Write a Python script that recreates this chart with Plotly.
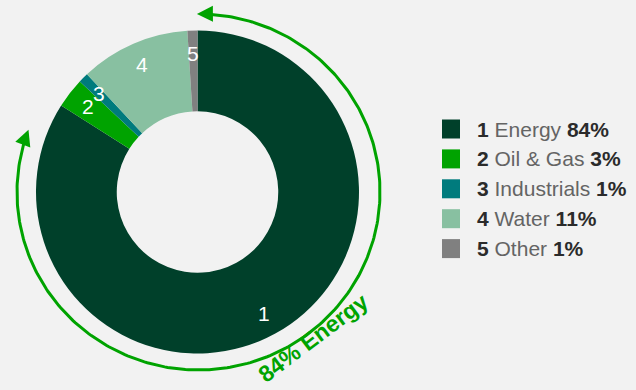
import numpy as np
import plotly.graph_objects as go

# ---- data ----
numbers = ["1", "2", "3", "4", "5"]
categories = ["Energy", "Oil & Gas", "Industrials", "Water", "Other"]
shares = [84, 3, 1, 11, 1]
colors = ["#00402a", "#00a300", "#007b7d", "#88c0a1", "#808080"]
arrow_label = "84% Energy"

W, H = 636, 390
BG = "#f2f2f2"
GREEN = "#00a300"
FONT = "Liberation Sans, Arial, sans-serif"

# donut geometry (pixels)
cx, cy, R = 197.5, 192.0, 161.5
hole = 0.5

fig = go.Figure()
fig.add_trace(go.Pie(
    values=shares, labels=categories,
    marker=dict(colors=colors, line=dict(width=0)),
    hole=hole, sort=False, direction="clockwise", rotation=0,
    textinfo="none", hoverinfo="label+percent", showlegend=False,
    domain=dict(x=[(cx - R) / W, (cx + R) / W],
                y=[1 - (cy + R) / H, 1 - (cy - R) / H]),
))

# slice number labels
total = float(sum(shares))
cum = np.cumsum(shares)
r_lab = 139
annotations = []
for num, s, c in zip(numbers, shares, cum):
    th = np.radians(360.0 * (c - s / 2.0) / total)
    annotations.append(dict(
        x=cx + r_lab * np.sin(th), y=cy - r_lab * np.cos(th), xref="x", yref="y",
        text=num, showarrow=False, xanchor="center", yanchor="middle",
        font=dict(family=FONT, size=21, color="white")))

# arrow arc around the Energy slice
acx, acy, Rx, Ry = 198.5, 192.0, 181.5, 178.0
t = np.radians(np.linspace(4.0, 286.0, 300))
fig.add_trace(go.Scatter(x=acx + Rx * np.sin(t), y=acy - Ry * np.cos(t), mode="lines",
                         line=dict(color=GREEN, width=3), hoverinfo="skip", showlegend=False))


def head(theta_deg, sign, L=16.0, w=8.0):
    th = np.radians(theta_deg)
    tip = np.array([acx + Rx * np.sin(th), acy - Ry * np.cos(th)])
    d = sign * np.array([Rx * np.cos(th), Ry * np.sin(th)])
    d = d / np.linalg.norm(d)
    n = np.array([-d[1], d[0]])
    base = tip - L * d
    p1, p2 = base + w * n, base - w * n
    xs = [tip[0], p1[0], p2[0], tip[0]]
    ys = [tip[1], p1[1], p2[1], tip[1]]
    return go.Scatter(x=xs, y=ys, mode="lines", fill="toself", fillcolor=GREEN,
                      line=dict(width=0, color=GREEN), hoverinfo="skip", showlegend=False)


fig.add_trace(head(-0.5, -1))
fig.add_trace(head(290.5, 1))

annotations.append(dict(
    x=313, y=338, xref="x", yref="y", text="<b>" + arrow_label + "</b>",
    textangle=-37, showarrow=False, xanchor="center", yanchor="middle",
    borderpad=0, font=dict(family=FONT, size=23, color=GREEN)))

# legend (manual)
shapes = []
y0, dy = 129.0, 29.9
for i, (num, cat, s, col) in enumerate(zip(numbers, categories, shares, colors)):
    yc = y0 + i * dy
    shapes.append(dict(type="rect", xref="x", yref="y", x0=442, x1=460,
                       y0=yc - 9.5, y1=yc + 9.5, fillcolor=col, line=dict(width=0)))
    annotations.append(dict(
        x=475, y=yc, xref="x", yref="y", xanchor="left", yanchor="middle", showarrow=False,
        text=(f"<span style='color:#2b2b2b'><b>{num}</b></span> "
              f"<span style='color:#646464'>{cat}</span> "
              f"<span style='color:#2b2b2b'><b>{s}%</b></span>"),
        font=dict(family=FONT, size=21, color="#646464")))

fig.update_layout(
    width=W, height=H, margin=dict(l=0, r=0, t=0, b=0),
    paper_bgcolor=BG, plot_bgcolor=BG,
    xaxis=dict(range=[0, W], visible=False, fixedrange=True, domain=[0, 1]),
    yaxis=dict(range=[H, 0], visible=False, fixedrange=True, domain=[0, 1]),
    annotations=annotations, shapes=shapes, showlegend=False,
)

fig.write_html("out.html")
